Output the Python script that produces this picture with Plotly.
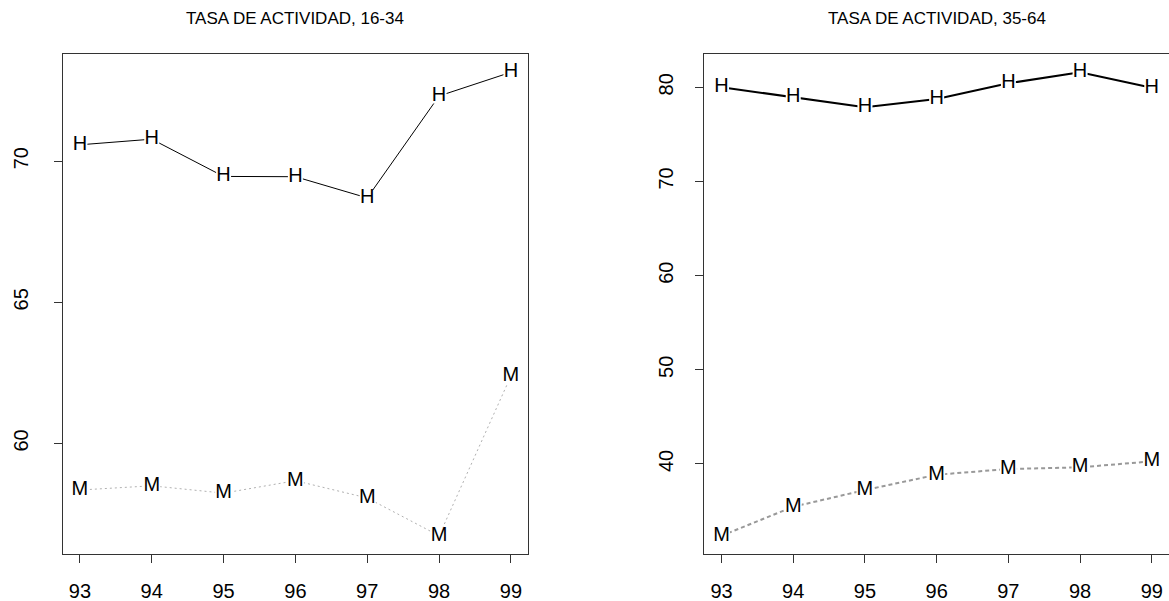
import plotly.graph_objects as go

# Años (eje x) y etiquetas
years = [93, 94, 95, 96, 97, 98, 99]
year_labels = ["93", "94", "95", "96", "97", "98", "99"]

# Tasa de actividad 16-34: hombres (H) y mujeres (M)
h_16_34 = [70.58, 70.78, 69.46, 69.45, 68.70, 72.31, 73.15]
m_16_34 = [58.35, 58.50, 58.24, 58.68, 58.07, 56.73, 62.39]

# Tasa de actividad 35-64: hombres (H) y mujeres (M)
h_35_64 = [80.00, 78.94, 77.88, 78.76, 80.42, 81.59, 79.95]
m_35_64 = [32.38, 35.46, 37.23, 38.86, 39.47, 39.64, 40.28]

ticks_16_34 = [60, 65, 70]
ticks_35_64 = [40, 50, 60, 70, 80]

titles = ["TASA DE ACTIVIDAD, 16-34", "TASA DE ACTIVIDAD, 35-64"]

FONT = "Liberation Sans, Arial, Helvetica, sans-serif"
AXIS_COLOR = "#333333"


def padded(lo, hi, frac=0.04):
    span = hi - lo
    return [lo - frac * span, hi + frac * span]


def letter_trace(x, y, letter, color, width, dash, box, xaxis, yaxis):
    # line between points, white square behind each letter so the line stops at the glyph
    return go.Scatter(
        x=x, y=y, xaxis=xaxis, yaxis=yaxis,
        mode="lines+markers+text",
        text=[letter] * len(x),
        textposition="middle center",
        textfont=dict(family=FONT, size=20, color="black"),
        line=dict(color=color, width=width, dash=dash),
        marker=dict(symbol="square", size=box, color="white", line=dict(width=0)),
        hoverinfo="skip",
        showlegend=False,
        cliponaxis=False,
    )


fig = go.Figure()

fig.add_trace(letter_trace(years, h_16_34, "H", "black", 1, "solid", 15, "x", "y"))
fig.add_trace(letter_trace(years, m_16_34, "M", "#b0b0b0", 1, "2px,3px", 17, "x", "y"))
fig.add_trace(letter_trace(years, h_35_64, "H", "black", 2, "solid", 15, "x2", "y2"))
fig.add_trace(letter_trace(years, m_35_64, "M", "#999999", 2, "4px,3px", 17, "x2", "y2"))

x_range = padded(min(years), max(years))
y1_range = padded(min(h_16_34 + m_16_34), max(h_16_34 + m_16_34))
y2_range = padded(min(h_35_64 + m_35_64), max(h_35_64 + m_35_64))

common_axis = dict(
    showgrid=False, zeroline=False, automargin=False,
    showline=True, linecolor=AXIS_COLOR, linewidth=1,
    ticks="outside", ticklen=8, tickwidth=1, tickcolor=AXIS_COLOR,
    tickfont=dict(family=FONT, size=20, color="black"),
)

y_domain = [0.0777, 0.9106]
left_dom = [0.0536, 0.4518]
right_dom = [0.6025, 1.0]

fig.update_layout(
    width=1169, height=601,
    margin=dict(l=0, r=0, t=0, b=0, autoexpand=False),
    paper_bgcolor="white", plot_bgcolor="white",
    xaxis=dict(common_axis, domain=left_dom, range=x_range,
               tickvals=years, ticktext=year_labels, mirror=True,
               ticklabelstandoff=11, anchor="y"),
    yaxis=dict(common_axis, domain=y_domain, range=y1_range,
               tickvals=ticks_16_34, ticktext=[str(v) for v in ticks_16_34],
               tickangle=-90, mirror=True, ticklabelstandoff=18, anchor="x"),
    xaxis2=dict(common_axis, domain=right_dom, range=x_range,
                tickvals=years, ticktext=year_labels, mirror=True,
                ticklabelstandoff=11, anchor="y2"),
    yaxis2=dict(common_axis, domain=y_domain, range=y2_range,
                tickvals=ticks_35_64, ticktext=[str(v) for v in ticks_35_64],
                tickangle=-90, mirror=False, ticklabelstandoff=14, anchor="x2"),
)

# Títulos de cada panel
for title, dom in zip(titles, [left_dom, [right_dom[0], 1.0004]]):
    fig.add_annotation(
        text=title, xref="paper", yref="paper",
        x=(dom[0] + dom[1]) / 2, y=1 - 19 / 601,
        xanchor="center", yanchor="middle", showarrow=False,
        font=dict(family=FONT, size=17, color="black"),
    )

fig.write_html("out.html")
